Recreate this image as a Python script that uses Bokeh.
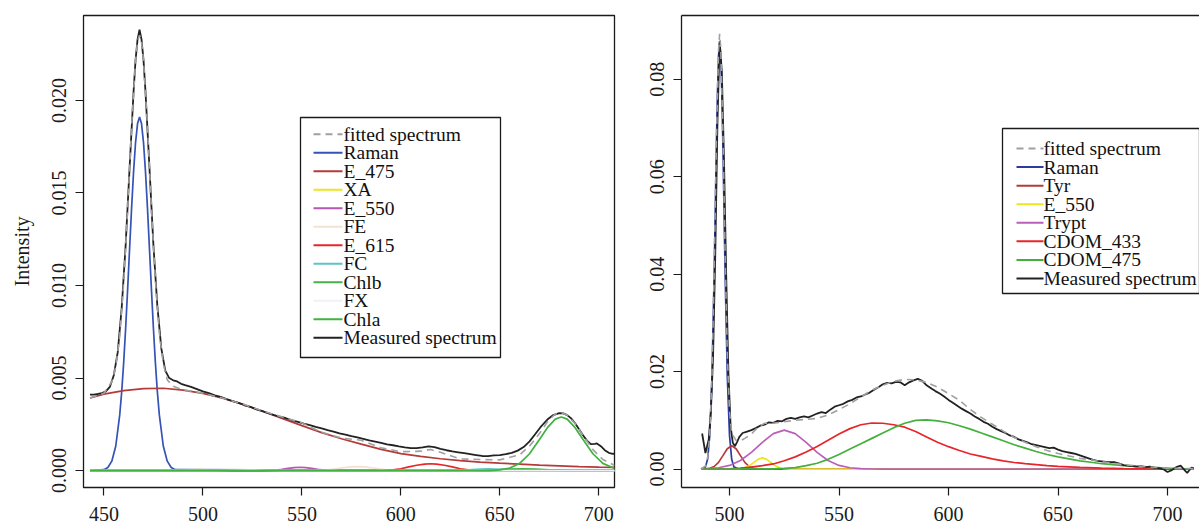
from bokeh.plotting import figure
from bokeh.models import (Range1d, FixedTicker, PrintfTickFormatter, LinearAxis,
                          BoxAnnotation, Label, Arrow)
from bokeh.layouts import row
from bokeh.embed import file_html
from bokeh.resources import INLINE

FONT = "Liberation Serif"

# ---------------- LEFT PANEL DATA (wavelength nm, intensity) ----------------
left_x_ticks = [450, 500, 550, 600, 650, 700]
left_y_ticks = [0.0, 0.005, 0.010, 0.015, 0.020]

raman_l_x = [443, 450, 452, 454, 456, 458, 459, 460, 461, 462, 463, 464, 465, 466, 467, 468,
             469, 470, 471, 472, 473, 474, 475, 476, 477, 478, 480, 482, 484, 486, 708]
raman_l_y = [0, 0.00005, 0.00017, 0.00051, 0.00133, 0.00301, 0.00427, 0.00585, 0.00772, 0.00982,
             0.01203, 0.01421, 0.01617, 0.01774, 0.01875, 0.0191, 0.01875, 0.01774, 0.01617,
             0.01421, 0.01203, 0.00982, 0.00772, 0.00585, 0.00427, 0.00301, 0.00133, 0.00051,
             0.00017, 0.00005, 0]

e475_x = [443, 450, 460, 470, 480, 490, 500, 510, 520, 530, 540, 550, 560, 570, 580, 590, 600,
          610, 620, 630, 640, 650, 660, 670, 680, 690, 700, 708]
e475_y = [0.00392, 0.00413, 0.00432, 0.00443, 0.00445, 0.00435, 0.00417, 0.00391, 0.00359, 0.00322,
          0.00282, 0.00243, 0.00205, 0.00172, 0.00143, 0.00115, 0.00092, 0.00077, 0.00064, 0.00054,
          0.00046, 0.00040, 0.00035, 0.00030, 0.00026, 0.00022, 0.00019, 0.00017]

xa_x = [443, 485, 492, 498, 504, 511, 708]
xa_y = [0, 0, 0.00003, 0.00005, 0.00003, 0, 0]

e550_l_x = [443, 530, 537, 540, 543, 546, 549, 552, 555, 558, 561, 568, 708]
e550_l_y = [0, 0, 0.00003, 0.00007, 0.00012, 0.00016, 0.00018, 0.00016, 0.00012, 0.00007, 0.00003, 0, 0]

fe_x = [443, 555, 562, 566, 570, 574, 578, 582, 586, 590, 594, 602, 708]
fe_y = [0, 0, 0.00003, 0.00008, 0.00014, 0.0002, 0.00022, 0.0002, 0.00014, 0.00008, 0.00003, 0, 0]

e615_x = [443, 590, 596, 600, 604, 608, 612, 615, 618, 622, 626, 630, 634, 640, 708]
e615_y = [0, 0, 0.00004, 0.0001, 0.0002, 0.00029, 0.00035, 0.00037, 0.00035, 0.00029, 0.0002,
          0.0001, 0.00004, 0, 0]

fc_x = [443, 625, 632, 638, 644, 650, 656, 665, 708]
fc_y = [0, 0, 0.00003, 0.00007, 0.00009, 0.00007, 0.00003, 0, 0]

chlb_x = [443, 640, 648, 655, 662, 668, 675, 685, 708]
chlb_y = [0, 0, 0.00004, 0.00008, 0.0001, 0.00008, 0.00004, 0, 0]

fx_x = [443, 505, 515, 522, 530, 540, 708]
fx_y = [0, 0, 0.00002, 0.00003, 0.00002, 0, 0]

chla_x = [443, 645, 650, 655, 660, 665, 670, 674, 678, 681, 684, 688, 692, 697, 702, 708]
chla_y = [0, 0, 0.00004, 0.00014, 0.00039, 0.00091, 0.00168, 0.00232, 0.00278, 0.0029, 0.00278,
          0.00232, 0.00168, 0.00091, 0.00039, 0.00011]

meas_l_x = [443, 445, 447, 449, 451, 453, 455, 457, 459, 461,
            463, 465, 466, 467, 468, 469, 470, 471, 473, 475,
            477, 479, 481, 483, 485, 487, 489, 491, 494, 497,
            500, 503, 506, 509, 512, 515, 518, 521, 524, 527,
            530, 533, 536, 539, 542, 545, 548, 551, 554, 557,
            560, 563, 566, 569, 572, 575, 578, 581, 584, 587,
            590, 593, 596, 599, 602, 605, 608, 611, 614, 617,
            620, 623, 626, 629, 632, 635, 638, 641, 644, 647,
            650, 653, 656, 659, 662, 665, 668, 671, 674, 677,
            680, 682, 684, 686, 688, 690, 692, 694, 696, 698,
            699, 701, 703, 705, 707, 708]
meas_l_y = [0.00410, 0.00411, 0.00414, 0.00419, 0.00428, 0.00452, 0.00515, 0.00640, 0.00880, 0.01220,
            0.01640, 0.02050, 0.02220, 0.02330, 0.02383, 0.02330, 0.02220, 0.02050, 0.01640, 0.01220,
            0.00890, 0.00660, 0.00540, 0.00500, 0.00488, 0.00482, 0.00469, 0.00462, 0.00452, 0.00440,
            0.00428, 0.00419, 0.00407, 0.00398, 0.00386, 0.00376, 0.00366, 0.00353, 0.00344, 0.00331,
            0.00321, 0.00310, 0.00300, 0.00291, 0.00283, 0.00272, 0.00263, 0.00254, 0.00246, 0.00236,
            0.00228, 0.00219, 0.00211, 0.00201, 0.00194, 0.00186, 0.00179, 0.00171, 0.00163, 0.00157,
            0.00150, 0.00142, 0.00137, 0.00131, 0.00126, 0.00122, 0.00121, 0.00125, 0.00131, 0.00127,
            0.00117, 0.00110, 0.00104, 0.00099, 0.00094, 0.00089, 0.00084, 0.00079, 0.00078, 0.00082,
            0.00084, 0.00089, 0.00096, 0.00108, 0.00127, 0.00158, 0.00199, 0.00241, 0.00276, 0.00300,
            0.00311, 0.00309, 0.00300, 0.00282, 0.00256, 0.00224, 0.00191, 0.00162, 0.00143, 0.00144,
            0.00147, 0.00132, 0.00110, 0.00096, 0.00091, 0.00090]

fit_l_x = [443, 450, 454, 456, 458, 460, 462, 464, 466, 467,
           468, 469, 470, 472, 474, 476, 478, 480, 482, 485,
           490, 500, 510, 520, 530, 540, 550, 560, 570, 580,
           590, 600, 610, 615, 620, 630, 640, 650, 660, 665,
           670, 674, 678, 681, 684, 688, 692, 697, 702, 708]
fit_l_y = [0.00392, 0.00418, 0.00480, 0.00560, 0.00726, 0.01015, 0.01414, 0.01861, 0.02216, 0.02320,
           0.02353, 0.02318, 0.02217, 0.01865, 0.01418, 0.01033, 0.00745, 0.00578, 0.00490, 0.00456,
           0.00436, 0.00418, 0.00392, 0.00360, 0.00323, 0.00290, 0.00258, 0.00207, 0.00176, 0.00164,
           0.00123, 0.00102, 0.00105, 0.00114, 0.00099, 0.00063, 0.00060, 0.00058, 0.00085, 0.00133,
           0.00200, 0.00264, 0.00306, 0.00313, 0.00300, 0.00254, 0.00190, 0.00113, 0.00060, 0.00028]

# ---------------- RIGHT PANEL DATA ----------------
right_x_ticks = [500, 550, 600, 650, 700]
right_y_ticks = [0.0, 0.02, 0.04, 0.06, 0.08]

raman_r_x = [487, 489, 490, 491, 492, 493, 494, 494.5, 495, 495.5,
             496, 496.5, 497, 498, 499, 500, 501, 502, 504, 712]
raman_r_y = [0.00001, 0.00045, 0.0020, 0.00697, 0.0189, 0.0401, 0.0661, 0.0772, 0.0848, 0.0875,
             0.0848, 0.0772, 0.0661, 0.0401, 0.0189, 0.00697, 0.0020, 0.00045, 0.00001, 0]

tyr_x = [487, 491, 493, 495, 497, 499, 501, 503, 505, 507, 509, 511, 514, 517, 712]
tyr_y = [0.0, 0.00015, 0.00053, 0.00138, 0.00276, 0.00418, 0.0048, 0.00418, 0.00276, 0.00138,
         0.00053, 0.00015, 0.00002, 0, 0]

e550_r_x = [487, 502, 505, 507, 509, 511, 513, 515, 517, 519, 521, 523, 525, 528, 712]
e550_r_y = [0, 0, 0.00007, 0.00025, 0.00066, 0.00132, 0.0020, 0.0023, 0.0020, 0.00132, 0.00066,
            0.00025, 0.00007, 0.00001, 0]

trypt_x = [487, 490, 495, 500, 505, 510, 515, 520, 525, 530, 535, 540, 545, 550, 555, 560, 565, 570, 712]
trypt_y = [0.00003, 0.00008, 0.00027, 0.00075, 0.00176, 0.00342, 0.00548, 0.00728, 0.0080, 0.00728,
           0.00548, 0.00342, 0.00176, 0.00075, 0.00027, 0.00008, 0.00002, 0, 0]

cdom433_x = [487, 500, 505, 510, 515, 520, 525, 530, 535, 540,
             545, 550, 555, 560, 565, 570, 575, 580, 585, 590,
             595, 600, 605, 610, 615, 620, 625, 630, 635, 640,
             645, 650, 655, 660, 670, 680, 690, 700, 712]
cdom433_y = [0, 0.00005, 0.0002, 0.0004, 0.0007, 0.00105, 0.0017, 0.0025, 0.0035, 0.00465,
             0.0059, 0.0072, 0.0083, 0.0091, 0.00945, 0.0094, 0.0091, 0.0086, 0.0077, 0.0066,
             0.0055, 0.0046, 0.0038, 0.0031, 0.0026, 0.0021, 0.0017, 0.00135, 0.0011, 0.0009,
             0.0007, 0.00055, 0.00045, 0.00035, 0.0002, 0.0001, 0.00005, 0.00002, 0]

cdom475_x = [487, 520, 525, 530, 535, 540, 545, 550, 555, 560,
             565, 570, 575, 580, 585, 590, 595, 600, 605, 610,
             615, 620, 625, 630, 635, 640, 645, 650, 655, 660,
             665, 670, 675, 680, 685, 690, 695, 700, 705, 712]
cdom475_y = [0, 0.00005, 0.00015, 0.0003, 0.0007, 0.0012, 0.002, 0.003, 0.0041, 0.0052,
             0.0063, 0.0074, 0.0085, 0.0094, 0.0100, 0.0101, 0.0099, 0.0095, 0.0089, 0.0082,
             0.0074, 0.0066, 0.0058, 0.0050, 0.0043, 0.0036, 0.0030, 0.0025, 0.0021, 0.0017,
             0.0014, 0.0011, 0.0009, 0.0007, 0.00055, 0.0004, 0.0003, 0.0002, 0.00012, 0.00005]

meas_r_x = ([487.5, 489, 490.5, 491.5, 492.5, 493.5, 494.5, 495.5, 496.5, 497.5,
             498.5, 499.5, 500.5, 501.5, 502.5, 503.5, 504.5]
            + list(range(506, 699, 2))
            + [700, 702, 704, 706, 708, 709, 710, 711, 712])
meas_r_y = [0.0073, 0.0033, 0.0060, 0.0118, 0.0232, 0.0440, 0.0712, 0.0878, 0.0815, 0.0632,
            0.0395, 0.0198, 0.0088, 0.0054, 0.0047, 0.0056, 0.0066,
            # 506 .. 698 every 2 nm
            0.0074, 0.0077, 0.0080, 0.0084, 0.0089, 0.0091, 0.0096, 0.0095, 0.0099, 0.0098,
            0.0103, 0.0105, 0.0103, 0.0106, 0.0108, 0.0106, 0.0110, 0.0114, 0.0117, 0.0115,
            0.0122, 0.0128, 0.0131, 0.0134, 0.0139, 0.0142, 0.0147, 0.0149, 0.0153, 0.0157,
            0.0163, 0.0168, 0.0174, 0.0177, 0.0176, 0.0179, 0.0178, 0.0172, 0.0178, 0.0182,
            0.0185, 0.0181, 0.0172, 0.0166, 0.0160, 0.0155, 0.0149, 0.0142, 0.0136, 0.0130,
            0.0124, 0.0119, 0.0114, 0.0108, 0.0103, 0.0097, 0.0093, 0.0087, 0.0082, 0.0078,
            0.0074, 0.0069, 0.0066, 0.0061, 0.0058, 0.0055, 0.0051, 0.0049, 0.0047, 0.0045,
            0.0043, 0.0044, 0.0040, 0.0037, 0.0035, 0.0033, 0.0031, 0.0028, 0.0025, 0.0022,
            0.0019, 0.0017, 0.0016, 0.0015, 0.0014, 0.0014, 0.0011, 0.0008, 0.0007, 0.0006,
            0.0005, 0.0006, 0.0004, 0.0005, 0.0003, 0.0002, 0.0000,
            # 700 .. 712
            -0.0006, -0.0002, 0.0004, 0.0007, -0.0003, -0.0008, -0.0002, 0.0003, 0.0002]

fit_r_x = [487, 489, 490, 491, 492, 493, 494, 495, 495.5, 496,
           497, 498, 499, 500, 501, 503, 505, 507, 510, 513,
           516, 520, 525, 530, 535, 540, 545, 550, 555, 560,
           565, 570, 575, 580, 585, 590, 595, 600, 605, 610,
           615, 620, 625, 630, 635, 640, 645, 650, 655, 660,
           665, 670, 675, 680, 690, 700, 712]
fit_r_y = [0.00003, 0.0006, 0.0022, 0.0072, 0.0194, 0.0408, 0.0670, 0.0860, 0.0893, 0.0865,
           0.0690, 0.0440, 0.0235, 0.0120, 0.0073, 0.0059, 0.0058, 0.0063, 0.0072, 0.0086,
           0.0094, 0.0094, 0.0097, 0.0100, 0.0102, 0.0104, 0.0111, 0.0122, 0.0134, 0.0148,
           0.0162, 0.0172, 0.0180, 0.0184, 0.0183, 0.0178, 0.0168, 0.0155, 0.0141, 0.0122,
           0.0106, 0.0092, 0.0078, 0.0065, 0.0055, 0.0046, 0.0038, 0.0032, 0.0027, 0.0022,
           0.0019, 0.0015, 0.0012, 0.0009, 0.0005, 0.0002, 0.0001]

# ---------------- names & colours ----------------
left_names = ["fitted spectrum", "Raman", "E_475", "XA", "E_550", "FE", "E_615", "FC",
              "Chlb", "FX", "Chla", "Measured spectrum"]
left_colors = ["#a0a0a0", "#3552b5", "#b53a3a", "#ece61e", "#b458b4", "#f3e2d2", "#e6262b",
               "#5cc3c6", "#48b048", "#eef2f6", "#3fb23f", "#222222"]
right_names = ["fitted spectrum", "Raman", "Tyr", "E_550", "Trypt", "CDOM_433", "CDOM_475",
               "Measured spectrum"]
right_colors = ["#a0a0a0", "#2a3c9e", "#b53a3a", "#ece61e", "#bb5fbb", "#e6262b", "#44b03c",
                "#222222"]

DASH = "7 5"


def make_fig(width, xr, yr, mbl, mbr, mbt, mbb):
    p = figure(width=width, height=527, x_range=Range1d(*xr), y_range=Range1d(*yr),
               output_backend="svg", toolbar_location=None,
               min_border_left=mbl, min_border_right=mbr,
               min_border_top=mbt, min_border_bottom=mbb)
    p.grid.visible = False
    p.background_fill_color = "white"
    p.border_fill_color = "white"
    return p


def style_axis(ax, ticks, fmt, standoff):
    ax.ticker = FixedTicker(ticks=ticks)
    ax.formatter = PrintfTickFormatter(format=fmt)
    ax.major_label_text_font = FONT
    ax.major_label_text_font_size = "20px"
    ax.major_label_text_color = "#1a1a1a"
    ax.major_label_standoff = standoff
    ax.major_tick_in = 0
    ax.major_tick_out = 8
    ax.major_tick_line_color = "#1a1a1a"
    ax.major_tick_line_width = 1.2
    ax.minor_tick_line_color = None


def add_legend(p, names, colors, box, row0, dy, lx0, lx1, tx):
    left, right, bottom, top = box
    p.add_layout(BoxAnnotation(left=left, right=right, bottom=bottom, top=top,
                               left_units="screen", right_units="screen",
                               bottom_units="screen", top_units="screen",
                               fill_color="white", fill_alpha=1.0,
                               line_color="#1a1a1a", line_width=1.3, line_alpha=1.0))
    for i, (n, c) in enumerate(zip(names, colors)):
        y = row0 - i * dy
        p.add_layout(Arrow(x_start=lx0, y_start=y, x_end=lx1, y_end=y,
                           start_units="screen", end_units="screen", start=None, end=None,
                           line_color=c, line_width=2,
                           line_dash=DASH if i == 0 else "solid"))
        p.add_layout(Label(x=tx, y=y, x_units="screen", y_units="screen", text=n,
                           text_font=FONT, text_font_size="19.5px", text_color="#111111",
                           text_baseline="middle", text_align="left"))


# ---------------- LEFT FIGURE ----------------
p1 = make_fig(626, (439.7, 707.9), (-0.000913, 0.024591), 83, 12, 15, 37)
p1.outline_line_color = "#1a1a1a"
p1.outline_line_width = 1.3
style_axis(p1.xaxis[0], left_x_ticks, "%d", 11)
style_axis(p1.yaxis[0], left_y_ticks, "%.3f", 9)
p1.xaxis.axis_line_color = None
p1.yaxis.axis_line_color = None
p1.yaxis.major_label_orientation = "parallel"
p1.yaxis.axis_label = "Intensity"
p1.yaxis.axis_label_text_font = FONT
p1.yaxis.axis_label_text_font_size = "20px"
p1.yaxis.axis_label_text_font_style = "normal"
p1.yaxis.axis_label_text_color = "#1a1a1a"
p1.yaxis.axis_label_standoff = 17

left_series = [(raman_l_x, raman_l_y), (e475_x, e475_y), (xa_x, xa_y), (e550_l_x, e550_l_y),
               (fe_x, fe_y), (e615_x, e615_y), (fc_x, fc_y), (chlb_x, chlb_y), (fx_x, fx_y),
               (chla_x, chla_y)]
for (xs, ys), c in zip(left_series, left_colors[1:11]):
    p1.line(xs, ys, line_color=c, line_width=1.7)
p1.line(meas_l_x, meas_l_y, line_color=left_colors[11], line_width=1.8)
p1.line(fit_l_x, fit_l_y, line_color=left_colors[0], line_width=1.6, line_dash=DASH)

add_legend(p1, left_names, left_colors, box=(217, 417, 130, 370),
           row0=353.3, dy=18.5, lx0=230, lx1=259, tx=260)

# ---------------- RIGHT FIGURE ----------------
p2 = make_fig(573, (478.08, 714.61), (-0.00378, 0.09308), 55, 0, 13, 40)
p2.outline_line_color = None
style_axis(p2.xaxis[0], right_x_ticks, "%d", 11)
style_axis(p2.yaxis[0], right_y_ticks, "%.2f", 9)
p2.xaxis.axis_line_color = "#1a1a1a"
p2.yaxis.axis_line_color = "#1a1a1a"
p2.xaxis.axis_line_width = 1.3
p2.yaxis.axis_line_width = 1.3
p2.yaxis.major_label_orientation = "parallel"
top_axis = LinearAxis(ticker=FixedTicker(ticks=[]), major_tick_out=0, major_tick_in=0,
                      minor_tick_line_color=None, major_label_standoff=0,
                      major_label_text_font_size="0px", axis_line_color="#1a1a1a",
                      axis_line_width=1.3)
p2.add_layout(top_axis, "above")

right_series = [(raman_r_x, raman_r_y), (tyr_x, tyr_y), (e550_r_x, e550_r_y),
                (trypt_x, trypt_y), (cdom433_x, cdom433_y), (cdom475_x, cdom475_y)]
for (xs, ys), c in zip(right_series, right_colors[1:7]):
    p2.line(xs, ys, line_color=c, line_width=1.7)
p2.line(meas_r_x, meas_r_y, line_color=right_colors[7], line_width=1.8)
p2.line(fit_r_x, fit_r_y, line_color=right_colors[0], line_width=1.6, line_dash=DASH)

add_legend(p2, right_names, right_colors, box=(321, 518, 194, 359),
           row0=339, dy=18.57, lx0=335, lx1=362, tx=362)

layout = row(p1, p2, spacing=0)
open("out.html", "w").write(file_html(layout, INLINE))
